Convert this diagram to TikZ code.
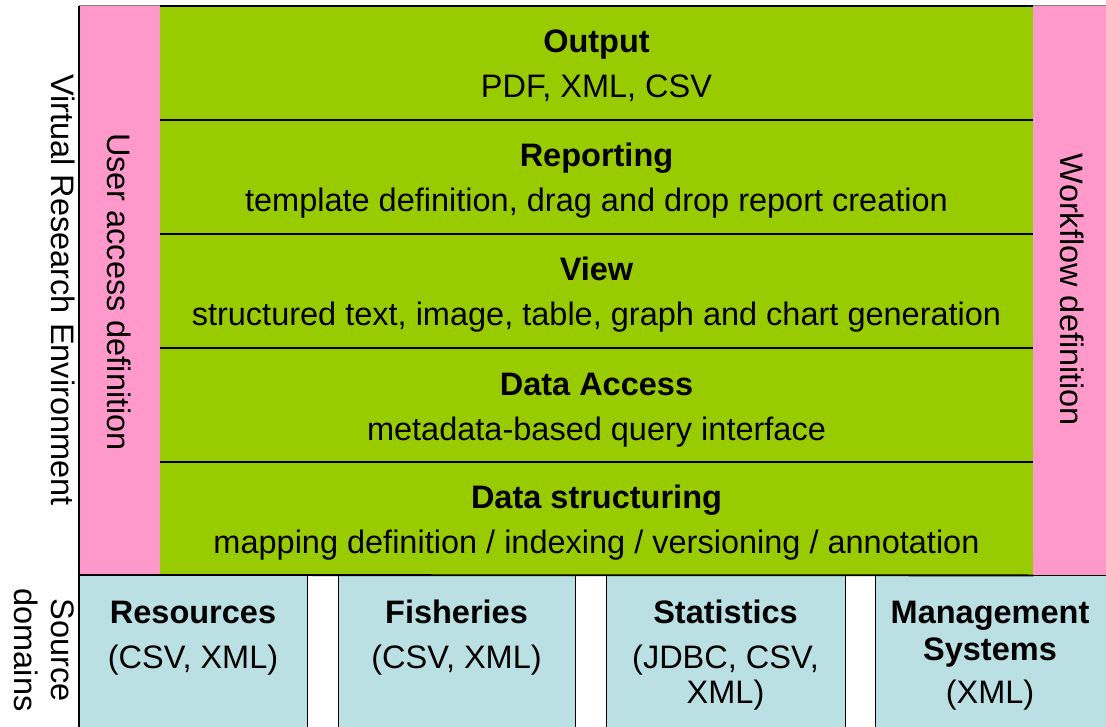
\documentclass[tikz,border=0pt]{standalone}
\usepackage{fontspec}
\setmainfont{Liberation Sans}
\definecolor{pinkc}{HTML}{FF99CC}
\definecolor{greenc}{HTML}{99CC00}
\definecolor{bluec}{HTML}{BBE0E3}
\begin{document}
\begin{tikzpicture}[x=1pt,y=-1pt,
  font=\fontsize{32.5}{38}\selectfont,
  band/.style={fill=greenc, minimum width=873pt, minimum height=114pt, anchor=north west, inner sep=0pt},
  divider/.style={line width=1.8pt},
  srcbox/.style={draw=black, line width=1.2pt, fill=bluec, anchor=north west, inner sep=0pt, minimum height=160pt},
  ttl/.style={font=\fontsize{32.5}{38}\selectfont\bfseries, anchor=base, inner sep=0pt},
  sub/.style={anchor=base, inner sep=0pt},
  side/.style={rotate=-90, inner sep=0pt}]
\useasboundingbox (0,0) rectangle (1106,727);
\fill[white] (0,0) rectangle (1106,727);
% pink side columns
\fill[pinkc] (79,6) rectangle (160,575);
\fill[pinkc] (1033,6) rectangle (1106,575);
% source domain boxes
\node[srcbox, minimum width=228pt] (s1) at (79,575) {};
\node[srcbox, minimum width=237pt] (s2) at (338,575) {};
\node[srcbox, minimum width=239pt] (s3) at (606,575) {};
\node[srcbox, minimum width=240pt] (s4) at (875,575) {};
\fill[pinkc] (1033.6,570) rectangle (1106,575);
% green bands
\node[band] (b1) at (160,6) {};
\node[band] (b2) at (160,120) {};
\node[band] (b3) at (160,234) {};
\node[band] (b4) at (160,348) {};
\node[band, minimum height=113pt] (b5) at (160,462) {};
\foreach \b in {b1,b2,b3,b4,b5} \draw[divider] (\b.north west) -- (\b.north east);
\draw[divider] (79,575) -- (b5.south east);
% frame
\draw[line width=1.2pt] (79,6) -- (79,727);
\draw[line width=1pt, gray] (79,5.5) -- (160,5.5);
\draw[line width=1pt, gray] (1033,5.5) -- (1106,5.5);
% band texts
\node[ttl] (t1) at (596.5,53) {Output};
\node[sub] (u1) at (596.5,98) {PDF, XML, CSV};
\node[ttl] (t2) at (596.5,167) {Reporting};
\node[sub] (u2) at (596.5,212) {template definition, drag and drop report creation};
\node[ttl] (t3) at (596.5,281) {View};
\node[sub] (u3) at (596.5,326) {structured text, image, table, graph and chart generation};
\node[ttl] (t4) at (596.5,395) {Data Access};
\node[sub] (u4) at (596.5,440) {metadata-based query interface};
\node[ttl] (t5) at (596.5,508) {Data structuring};
\node[sub] (u5) at (596.5,553) {mapping definition / indexing / versioning / annotation};
% side labels
\node[side] (vre) at (63,290) {Virtual Research Environment};
\node[side] (uad) at (119,292) {User access definition};
\node[side] (wfd) at (1072,290) {Workflow definition};
\node[side, align=center, font=\fontsize{32.5}{37}\selectfont] (srcd) at (44,650) {Source\\domains};
% source box texts
\node[ttl] (r1) at (193,623) {Resources};
\node[sub] (r2) at (193,668) {(CSV, XML)};
\node[ttl] (f1) at (456.5,623) {Fisheries};
\node[sub] (f2) at (456.5,668) {(CSV, XML)};
\node[ttl] (st1) at (725.5,623) {Statistics};
\node[sub] (st2) at (725.5,668) {(JDBC, CSV,};
\node[sub] (st3) at (725.5,703) {XML)};
\node[ttl] (m1) at (990,623) {Management};
\node[ttl] (m2) at (990,660) {Systems};
\node[sub] (m3) at (990,703) {(XML)};
\end{tikzpicture}
\end{document}
